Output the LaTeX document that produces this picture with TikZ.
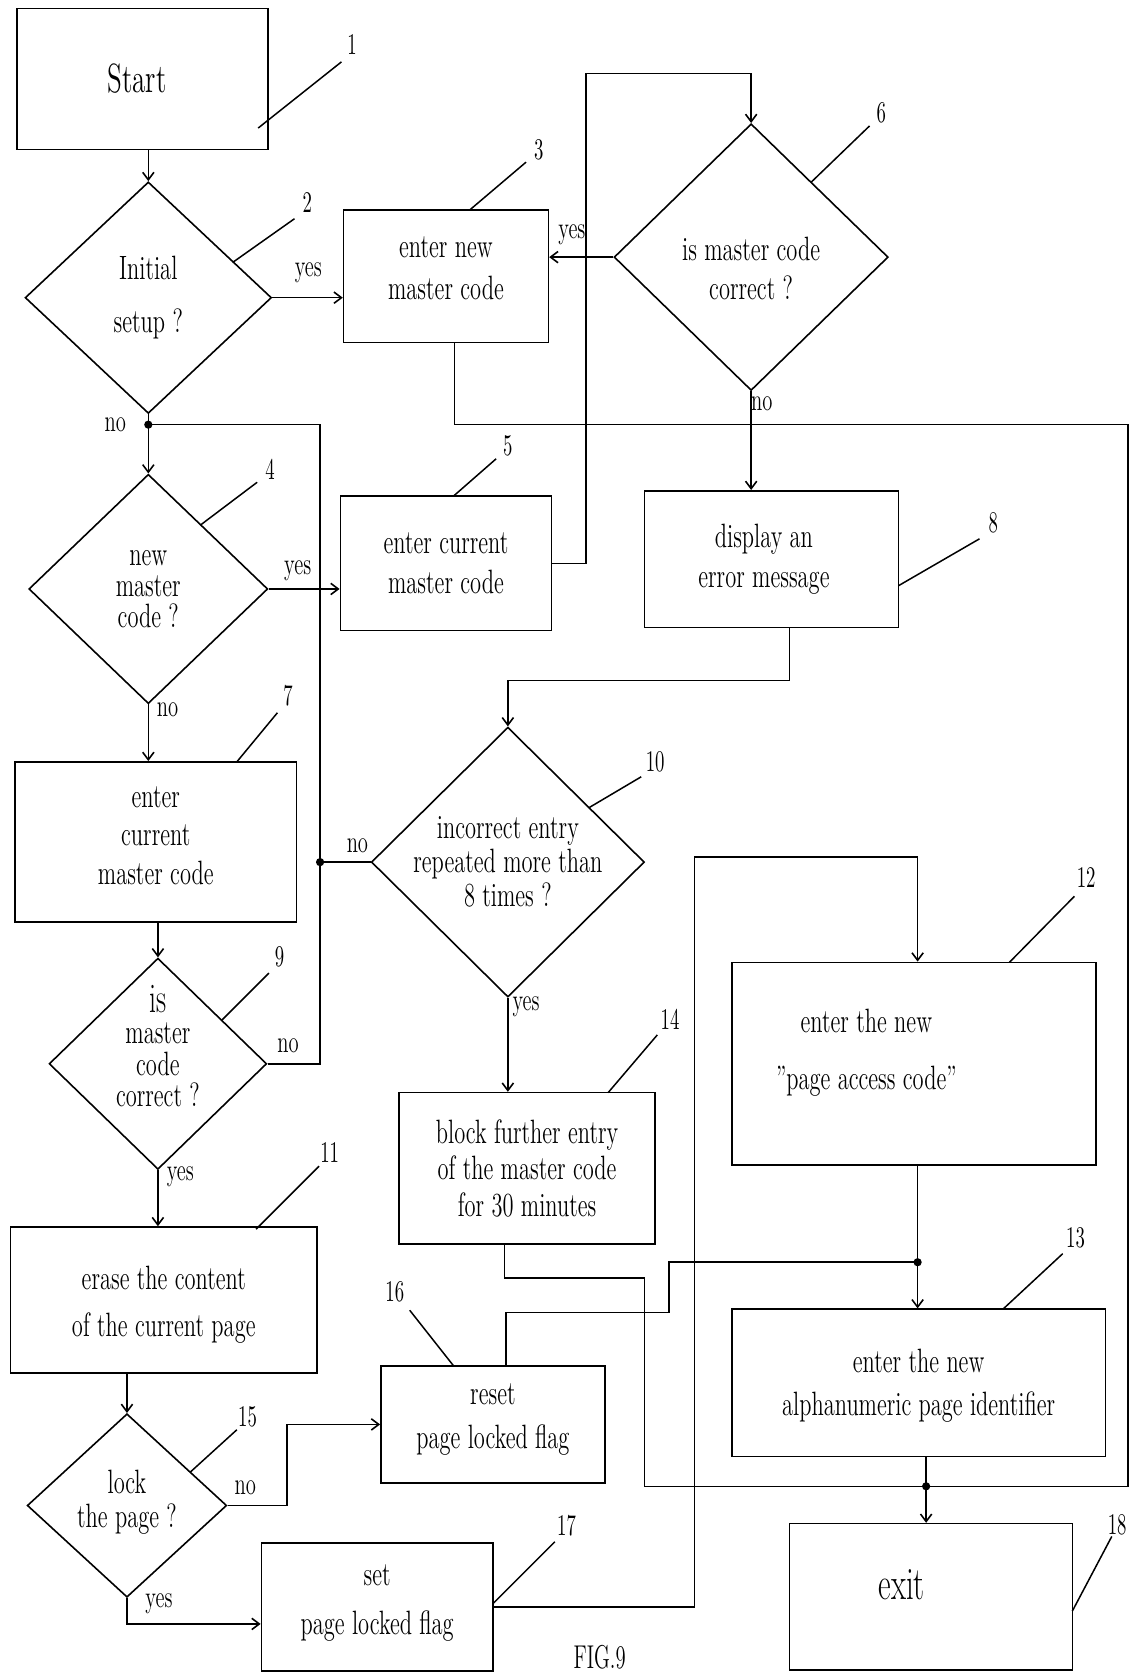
\documentclass[tikz,border=0pt]{standalone}
\usetikzlibrary{shapes.geometric,arrows.meta,calc,fit}
\begin{document}
\begin{tikzpicture}[x={(0.02cm,0)},y={(0,-0.02cm)},
  line width=0.85pt,
  box/.style={draw, rectangle, inner sep=0pt},
  dia/.style={draw, diamond, inner sep=0pt},
  tx/.style={inner sep=0pt, align=center, yscale=1.5, font=\fontsize{12}{#1}\selectfont},
  num/.style={font=\fontsize{10}{12}\selectfont, inner sep=0pt, yscale=1.6},
  yn/.style={font=\fontsize{11}{12}\selectfont, inner sep=0pt, yscale=1.5},
  arr/.style={-{Straight Barb[length=4pt,width=6pt]}},
  leader/.style={line width=0.8pt}
]
\useasboundingbox (0,0) rectangle (1062,1568);

% boxes
\node[box, fit={(16,8) (251,140)},
  label={[tx=17, font=\fontsize{14.5}{17}\selectfont, xshift=-0.1cm]center:{Start}}] (n1) {};
\node[box, fit={(322,197) (514,321)},
  label={[tx=14.8, yshift=0.1cm]center:{enter new\\master code}}] (n3) {};
\node[box, fit={(319,465) (517,591)},
  label={[tx=14.0]center:{enter current\\master code}}] (n5) {};
\node[box, fit={(14,714) (278,864)},
  label={[tx=13.7, yshift=0.08cm]center:{enter\\current\\master code}}] (n7) {};
\node[box, fit={(604,460) (842,588)},
  label={[tx=14.4, xshift=-0.14cm]center:{display an\\error message}}] (n8) {};
\node[box, fit={(10,1150) (297,1287)},
  label={[tx=16.7, yshift=-0.06cm]center:{erase the content\\of the current page}}] (n11) {};
\node[box, fit={(686,902) (1027,1092)},
  label={[tx=20.1, xshift=-0.89cm, yshift=0.14cm]center:{enter the new\\"page access code"}}] (n12) {};
\node[box, fit={(686,1227) (1036,1365)},
  label={[tx=15.2, yshift=-0.04cm]center:{enter the new\\alphanumeric page identifier}}] (n13) {};
\node[box, fit={(374,1024) (614,1166)},
  label={[tx=12.9]center:{block further entry\\of the master code\\for 30 minutes}}] (n14) {};
\node[box, fit={(357,1280) (567,1390)},
  label={[tx=15.9, yshift=0.06cm]center:{reset\\page locked flag}}] (n16) {};
\node[box, fit={(245,1446) (462,1566)},
  label={[tx=17.4, yshift=0.05cm]center:{set\\page locked flag}}] (n17) {};
\node[box, fit={(740,1428) (1005,1565)},
  label={[tx=19, font=\fontsize{16.5}{19}\selectfont, xshift=-0.55cm, yshift=0.15cm]center:{exit}}] (n18) {};

% diamonds
\node[dia, minimum width=4.62cm, minimum height=4.34cm,
  label={[tx=19]center:{Initial\\setup ?}}] (d2) at (139,279) {};
\node[dia, minimum width=5.14cm, minimum height=5.0cm,
  label={[tx=14, yshift=-0.14cm]center:{is master code\\correct ?}}] (d6) at (704,241) {};
\node[dia, minimum width=4.48cm, minimum height=4.3cm,
  label={[tx=11]center:{new\\master\\code ?}}] (d4) at (139,552) {};
\node[dia, minimum width=5.12cm, minimum height=5.06cm,
  label={[tx=12.1]center:{incorrect entry\\repeated more than\\8 times ?}}] (d10) at (476,808) {};
\node[dia, minimum width=4.08cm, minimum height=3.96cm,
  label={[tx=11.2, yshift=0.22cm]center:{{\fontsize{15}{11.2}\selectfont is}\\master\\code\\correct ?}}] (d9) at (148,997) {};
\node[dia, minimum width=3.74cm, minimum height=3.44cm,
  label={[tx=11.8, yshift=0.04cm]center:{lock\\the page ?}}] (d15) at (119,1411) {};

% helper coordinates
\coordinate (j1) at (139,398);
\coordinate (j2) at (300,808);
\coordinate (j3) at (860,1183);
\coordinate (j4) at (868,1393);
\coordinate (v1) at (300,398);
\coordinate (t6) at (549,69);
\coordinate (r1) at (1057,398);
\coordinate (m14) at (604,1198);
\coordinate (m16) at (627,1230);
\coordinate (c17) at (651,803);
\coordinate (b3) at ($(n3.south)+(8,0)$);
\coordinate (b8) at ($(n8.south)+(17,0)$);
\coordinate (b14) at ($(n14.south)+(-21,0)$);
\coordinate (b16) at ($(n16.north)+(12,0)$);
\coordinate (b17) at ($(n17.west)+(0,16)$);

% connectors
\draw[arr] (n1.south -| d2.north) -- (d2.north);
\draw[arr] (d2.east) -- (d2.east -| n3.west);
\draw[arr] (d6.west) -- (d6.west -| n3.east);
\draw[arr] (n5.east) -| (t6) -| (d6.north);
\draw[arr] (d6.south) -- (d6.south |- n8.north);
\draw (b3) |- (r1) |- (j4);
\draw (d2.south) -- (j1);
\draw[arr] (j1) -- (j1 |- d4.north);
\draw (d9.east) -| (v1) -- (j1);
\draw (d10.west) -- (j2);
\draw[arr] (d4.east) -- (d4.east -| n5.west);
\draw[arr] (d4.south) -- (d4.south |- n7.north);
\draw[arr] (n7.south -| d9.north) -- (d9.north);
\draw[arr] (d9.south) -- (d9.south |- n11.north);
\draw[arr] (n11.south -| d15.north) -- (d15.north);
\draw[arr] (b8) -- ++(0,49) -| (d10.north);
\draw[arr] (d10.south) -- (d10.south |- n14.north);
\draw (b14) |- (m14) |- (j4);
\draw (b16) |- (m16) |- (j3);
\draw[arr] (n12.south -| j3) -- (j3) -- (j3 |- n13.north);
\draw[arr] (n13.south -| j4) -- (j4) -- (j4 |- n18.north);
\draw[arr] (d15.east) -- ++(56,0) |- (n16.west);
\draw[arr] (d15.south) |- (b17);
\draw[arr] (n17.east) -| (c17) -| (j3 |- n12.north);

% junction dots
\foreach \j in {j1,j2,j3,j4} \fill (\j) circle[radius=2.2pt];

% yes / no labels
\node[yn] (y2) at (289,256) {yes};
\node[yn] (o2) at (108,398) {no};
\node[yn] (y6) at (536,220) {yes};
\node[yn] (o6) at (714,378) {no};
\node[yn] (y4) at (279,535) {yes};
\node[yn] (o4) at (157,665) {no};
\node[yn] (o10) at (335,793) {no};
\node[yn] (y10) at (493,944) {yes};
\node[yn] (o9) at (270,980) {no};
\node[yn] (y9) at (169,1103) {yes};
\node[yn] (o15) at (230,1394) {no};
\node[yn] (y15) at (149,1503) {yes};

% reference numerals and leaders
\node[num] (l1) at (330,42) {1};
\draw[leader] (320,58) -- (242,120);
\node[num] (l2) at (288,190) {2};
\draw[leader] (276,205) -- (218,246);
\node[num] (l3) at (505,140) {3};
\draw[leader] (493,152) -- (440,197);
\node[num] (l4) at (253,440) {4};
\draw[leader] (241,452) -- (188,492);
\node[num] (l5) at (476,418) {5};
\draw[leader] (465,430) -- (425,465);
\node[num] (l6) at (826,106) {6};
\draw[leader] (815,118) -- (760,171);
\node[num] (l7) at (270,652) {7};
\draw[leader] (260,668) -- (222,714);
\node[num] (l8) at (931,490) {8};
\draw[leader] (918,505) -- (842,549);
\node[num] (l9) at (262,897) {9};
\draw[leader] (252,912) -- (208,956);
\node[num] (l10) at (614,714) {10};
\draw[leader] (601,728) -- (552,757);
\node[num] (l11) at (309,1080) {11};
\draw[leader] (299,1093) -- (240,1152);
\node[num] (l12) at (1018,822) {12};
\draw[leader] (1007,840) -- (946,902);
\node[num] (l13) at (1008,1160) {13};
\draw[leader] (996,1175) -- (940,1227);
\node[num] (l14) at (628,955) {14};
\draw[leader] (616,970) -- (570,1024);
\node[num] (l15) at (232,1328) {15};
\draw[leader] (222,1340) -- (178,1380);
\node[num] (l16) at (370,1211) {16};
\draw[leader] (384,1228) -- (425,1280);
\node[num] (l17) at (531,1430) {17};
\draw[leader] (520,1445) -- (462,1503);
\node[num] (l18) at (1047,1429) {18};
\draw[leader] (1042,1440) -- (1005,1510);

\node[font=\fontsize{11}{13}\selectfont, inner sep=0pt, yscale=1.6] (fig) at (562,1553) {FIG.9};
\end{tikzpicture}
\end{document}
